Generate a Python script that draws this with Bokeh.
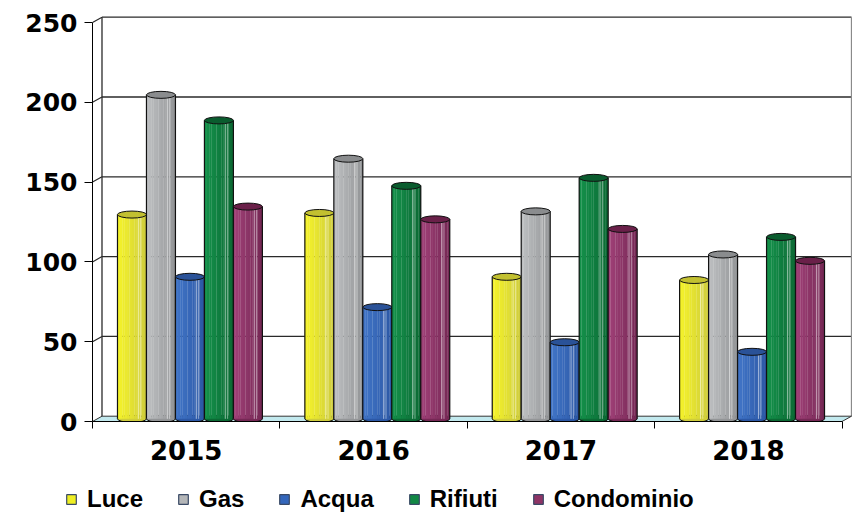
import numpy as np
from bokeh.plotting import figure
from bokeh.models import Range1d, FixedTicker, Legend, LegendItem
from bokeh.embed import file_html
from bokeh.resources import INLINE

# ---------------- data ----------------
years = ["2015", "2016", "2017", "2018"]
series = ["Luce", "Gas", "Acqua", "Rifiuti", "Condominio"]
luce = [128, 129, 89, 87]
gas = [203, 163, 130, 103]
acqua = [89, 70, 48, 42]
rifiuti = [187, 146, 151, 114]
condominio = [133, 125, 119, 99]
y_ticks = [0, 50, 100, 150, 200, 250]

values = [luce, gas, acqua, rifiuti, condominio]

# ---------------- styles ----------------
light = ["#f4f22a", "#bcbec0", "#4074c6", "#14904a", "#9e4076"]
dark = ["#cfcd3c", "#939597", "#2c58a6", "#0b6a34", "#762855"]
topc = ["#c2c030", "#8a8c8e", "#2a5298", "#0a5c2e", "#6a2049"]
legc = ["#eeee22", "#b4b6b8", "#3366bb", "#118844", "#8e3466"]
floor_color = "#c2e9ee"

PXX = 187.5        # px per category unit
PXY = 1.596        # px per value unit
DX = 9.5 / PXX     # depth offset (x)
DY = 5.3 / PXY     # depth offset (y)
BW = 29 / PXX      # bar width
GAP = 25 / PXX     # gap before first bar
EH = 7 / PXY       # ellipse height
n = len(years)
ymax = y_ticks[-1]

p = figure(width=852, height=470,
           x_range=Range1d(0, n + 10.5 / PXX), y_range=Range1d(0, 409 / PXY),
           output_backend="svg", toolbar_location=None,
           min_border_left=92, min_border_right=0, min_border_top=12, min_border_bottom=49)
p.xgrid.visible = False
p.ygrid.visible = False
p.outline_line_color = None
p.background_fill_color = "white"

# ---------------- walls & floor ----------------
gt = np.array(y_ticks[1:], dtype=float)
p.segment(x0=np.full(len(gt), DX), y0=gt + DY, x1=np.full(len(gt), n + DX), y1=gt + DY,
          line_color="#2a2a2a", line_width=1.3)
p.segment(x0=np.zeros(len(gt)), y0=gt, x1=np.full(len(gt), DX), y1=gt + DY,
          line_color="#2a2a2a", line_width=1.2)
p.segment(x0=[DX], y0=[DY], x1=[DX], y1=[ymax + DY], line_color="#2a2a2a", line_width=1.3)
p.segment(x0=[n + DX], y0=[DY], x1=[n + DX], y1=[ymax + DY], line_color="#8a8a8a", line_width=1.3)
p.patch([0, n, n + DX, DX], [0, 0, DY, DY], fill_color=floor_color,
        line_color="#333333", line_width=1)

# ---------------- bars (cylinders) ----------------
def mix(c1, c2, t):
    a = np.array([int(c1[i:i + 2], 16) for i in (1, 3, 5)], dtype=float)
    b = np.array([int(c2[i:i + 2], 16) for i in (1, 3, 5)], dtype=float)
    c = a + (b - a) * t
    return "#%02x%02x%02x" % tuple(int(round(v)) for v in c)

NS = 12
base = np.arange(n, dtype=float)
bottom = DY / 2
for j, vals in enumerate(values):
    xs = base + GAP + BW * (j + 0.5)
    top = np.array(vals, dtype=float) + DY / 2
    p.ellipse(x=xs, y=np.full(n, bottom), width=BW, height=EH,
              fill_color=dark[j], line_color="#111111", line_width=1)
    for k in range(NS):
        t = k / (NS - 1)
        xc = xs - BW / 2 + BW * (k + 0.5) / NS
        col = mix(light[j], dark[j], t ** 1.1)
        p.vbar(x=xc, top=top, bottom=bottom, width=BW / NS * 1.08,
               fill_color=col, line_color=None)
    for off, a in ((0.22, 0.55), (0.30, 0.45)):
        p.segment(x0=xs + BW * off, y0=np.full(n, bottom), x1=xs + BW * off, y1=top,
                  line_color="white", line_alpha=a, line_width=1)
    p.segment(x0=xs - BW / 2, y0=np.full(n, bottom), x1=xs - BW / 2, y1=top,
              line_color="#111111", line_width=1.2)
    p.segment(x0=xs + BW / 2, y0=np.full(n, bottom), x1=xs + BW / 2, y1=top,
              line_color="#111111", line_width=1.2)
    p.ellipse(x=xs, y=top, width=BW, height=EH,
              fill_color=topc[j], line_color="#111111", line_width=1)

# ---------------- axes ----------------
yax = p.yaxis[0]
yax.ticker = FixedTicker(ticks=y_ticks)
yax.bounds = (0, ymax)
yax.major_tick_out = 8
yax.major_tick_in = 0
yax.minor_tick_out = 0
yax.minor_tick_in = 0
yax.major_label_standoff = 7
yax.axis_line_color = "black"
yax.major_tick_line_color = "black"
yax.major_label_text_font = "DejaVu Sans"
yax.major_label_text_font_style = "bold"
yax.major_label_text_font_size = "25px"
yax.major_label_text_color = "black"

xax = p.xaxis[0]
centers = [i + 0.5 for i in range(n)]
xax.ticker = FixedTicker(ticks=centers, minor_ticks=list(range(n + 1)))
xax.bounds = (0, n)
xax.major_label_overrides = {c: y for c, y in zip(centers, years)}
xax.major_tick_out = 0
xax.major_tick_in = 0
xax.minor_tick_out = 7
xax.minor_tick_in = 0
xax.minor_tick_line_color = "black"
xax.axis_line_color = "black"
xax.major_label_standoff = 11
xax.major_label_text_font = "DejaVu Sans"
xax.major_label_text_font_style = "bold"
xax.major_label_text_font_size = "26px"
xax.major_label_text_color = "black"

# ---------------- legend (separate strip, own root) ----------------
lg = figure(width=852, height=43, x_range=Range1d(0, 852), y_range=Range1d(0, 43),
            output_backend="svg", toolbar_location=None,
            x_axis_location=None, y_axis_location=None,
            min_border_left=0, min_border_right=0, min_border_top=0, min_border_bottom=0)
lg.grid.visible = False
lg.outline_line_color = None
items = []
for j, name in enumerate(series):
    # swatch-only renderer (its single point lies outside the visible range)
    r = lg.rect(x=[-1000], y=[-1000], width=1, height=1, fill_color=legc[j],
                line_color="#3a4a66", line_width=1.2)
    items.append(LegendItem(label=name, renderers=[r]))
legend = Legend(items=items, location=(65, 0), orientation="horizontal",
                glyph_width=12, glyph_height=12, label_standoff=10, spacing=34,
                padding=0, margin=0, border_line_alpha=0, background_fill_alpha=0,
                label_text_font="Liberation Sans", label_text_font_style="bold",
                label_text_font_size="24px", label_text_color="black")
lg.add_layout(legend)

open("out.html", "w").write(file_html((p, lg), INLINE))
